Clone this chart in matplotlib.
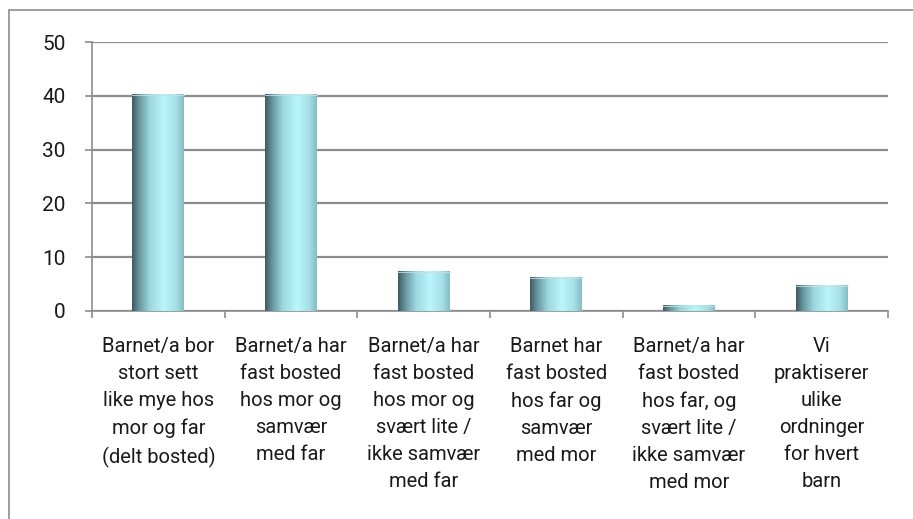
import matplotlib.pyplot as plt
import numpy as np
from matplotlib.colors import LinearSegmentedColormap

categories = [
    "Barnet/a bor\nstort sett\nlike mye hos\nmor og far\n(delt bosted)",
    "Barnet/a har\nfast bosted\nhos mor og\nsamvær\nmed far",
    "Barnet/a har\nfast bosted\nhos mor og\nsvært lite /\nikke samvær\nmed far",
    "Barnet har\nfast bosted\nhos far og\nsamvær\nmed mor",
    "Barnet/a har\nfast bosted\nhos far, og\nsvært lite /\nikke samvær\nmed mor",
    "Vi\npraktiserer\nulike\nordninger\nfor hvert\nbarn",
]
values = [40.2, 40.2, 7.3, 6.2, 1.0, 4.7]
yticks = [0, 10, 20, 30, 40, 50]

plt.rcParams['font.family'] = ['Roboto', 'DejaVu Sans']

fig = plt.figure(figsize=(9.13, 5.19), dpi=100)
# outer chart frame
fig.add_artist(plt.Rectangle((9 / 913, -0.01), 1.0, 1 - 10 / 519 + 0.01,
                             transform=fig.transFigure, fill=False,
                             edgecolor='#8c8c8c', linewidth=1.2))

ax = fig.add_axes([92 / 913, 1 - 311 / 519, (888 - 92) / 913, (311 - 42) / 519])

# cylinder-like horizontal shading for each bar
shade = LinearSegmentedColormap.from_list(
    'shade', [(0.0, '#3e5a60'), (0.15, '#6a9aa3'), (0.35, '#9fd8e1'),
              (0.62, '#b9f6fd'), (0.85, '#a6dfe7'), (1.0, '#86bcc4')])
grad = np.linspace(0, 1, 256).reshape(1, -1)

x = np.arange(len(values))
width = 0.39
bars = ax.bar(x, values, width=width, color='none', zorder=3)
for b in bars:
    x0, y0 = b.get_x(), b.get_y()
    ax.imshow(grad, cmap=shade, aspect='auto', zorder=3,
              extent=(x0, x0 + b.get_width(), y0, y0 + b.get_height()))
    ax.plot([x0, x0 + b.get_width()], [b.get_height()] * 2,
            color='#c8dde0', lw=0.6, zorder=4)

ax.set_xlim(-0.5, len(values) - 0.5)
ax.set_ylim(0, 50)
ax.set_yticks(yticks)
ax.set_yticklabels([str(t) for t in yticks], fontsize=15, color='#1a1a1a')
ax.yaxis.grid(True, color='#8c8c8c', linewidth=1.6, zorder=1)
ax.set_axisbelow(True)

ax.set_xticks(x)
ax.set_xticklabels(categories, fontsize=14.5, color='#1a1a1a',
                   linespacing=1.53, va='top')
ax.tick_params(axis='x', length=0, pad=19)
ax.set_xticks(np.arange(len(values) + 1) - 0.5, minor=True)
ax.tick_params(axis='x', which='minor', length=5, color='#8c8c8c', width=1.2)
ax.tick_params(axis='y', length=5, color='#8c8c8c', width=1.2, pad=14)

for s in ['top', 'right']:
    ax.spines[s].set_visible(False)
for s in ['left', 'bottom']:
    ax.spines[s].set_color('#8c8c8c')
    ax.spines[s].set_linewidth(1.2)

fig.savefig('out.png', dpi=100)
